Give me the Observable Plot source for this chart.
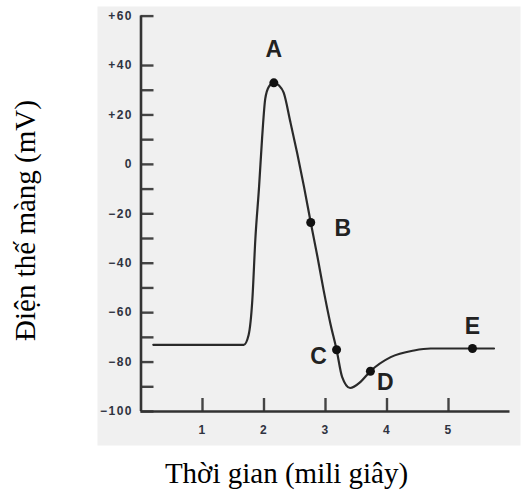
<!DOCTYPE html>
<html><head><meta charset="utf-8">
<script src="https://cdn.jsdelivr.net/npm/d3@7"></script>
<script src="https://cdn.jsdelivr.net/npm/@observablehq/plot@0.6"></script>
<style>body{margin:0;background:#fff}</style>
</head><body><div id="chart"></div>
<script>
const timeMs = [0.20, 1.67, 1.75, 1.81, 1.86, 1.92, 1.97, 2.02, 2.08, 2.16, 2.24, 2.32, 2.43, 2.54, 2.65, 2.76, 2.87, 2.97, 3.08, 3.18, 3.27, 3.40, 3.57, 3.73, 4.06, 4.44, 4.71, 5.39, 5.74];
const membraneMV = [-73, -73, -69, -55, -30, -9, 11, 26.5, 31.5, 33, 32, 29, 17, 4.5, -9, -23.5, -37.5, -51, -64.5, -75, -86, -90.5, -88, -83.7, -78, -75.3, -74.5, -74.5, -74.5];
const pointLabels = ["A", "B", "C", "D", "E"];
const pointTimeMs = [2.16, 2.76, 3.18, 3.73, 5.39];
const pointMV = [33, -23.5, -75, -83.7, -74.5];
const yTickValues = [-100, -80, -60, -40, -20, 0, 20, 40, 60];
const yMinorTicks = [-90, -70, -50, -30, -10, 10, 30];
const xTickValues = [1, 2, 3, 4, 5];
const xTitle = "Thời gian (mili giây)";
const yTitle = "Điện thế màng (mV)";

const curveData = timeMs.map((t, i) => ({t, v: membraneMV[i]}));
const points = pointLabels.map((label, i) => ({label, t: pointTimeMs[i], v: pointMV[i]}));
const labelOffsets = {A: [0, -33], B: [32, 6], C: [-18, 7], D: [15, 11], E: [0, -22]};
const fmt = v => v > 0 ? "+" + v : v < 0 ? "\u2212" + Math.abs(v) : "0";
const serif = "'Liberation Serif', 'Times New Roman', serif";

const chart = Plot.plot({
  width: 521, height: 493,
  marginLeft: 140.5, marginRight: 11.5, marginTop: 15.6, marginBottom: 82,
  x: {domain: [0, 6], label: null},
  y: {domain: [-100, 60], label: null},
  style: {background: "transparent", fontFamily: "'Liberation Sans', Arial, sans-serif"},
  marks: [
    Plot.frame({fill: "#f0f0f0", stroke: "none", insetLeft: -43.5, insetRight: -10.5, insetTop: -9.6, insetBottom: -34}),
    Plot.axisY([...yTickValues, ...yMinorTicks], {tickSize: -13, tickFormat: () => "", stroke: "#444", strokeWidth: 2.4}),
    Plot.axisY(yTickValues, {tickSize: 0, tickPadding: 8, tickFormat: fmt, fontSize: 12, fontWeight: "bold", fill: "#2f3340"}),
    Plot.axisX(xTickValues, {tickSize: -13, tickFormat: () => "", stroke: "#444", strokeWidth: 2.4}),
    Plot.axisX(xTickValues, {tickSize: 0, tickPadding: 14, fontSize: 12, fontWeight: "bold", fill: "#2f3340"}),
    Plot.ruleX([0], {stroke: "#333", strokeWidth: 2.6}),
    Plot.ruleY([-100], {stroke: "#333", strokeWidth: 2.6}),
    Plot.line(curveData, {x: "t", y: "v", curve: "monotone-x", stroke: "#2a2a2a", strokeWidth: 2.2}),
    Plot.dot(points, {x: "t", y: "v", r: 4.5, fill: "#111"}),
    ...pointLabels.map(l => Plot.text(points.filter(p => p.label === l), {
      x: "t", y: "v", text: "label", dx: labelOffsets[l][0], dy: labelOffsets[l][1],
      fontSize: 23, fontWeight: "bold", fill: "#222"
    })),
    Plot.text([xTitle], {text: d => d, frameAnchor: "bottom", dx: -39, dy: 71, lineAnchor: "bottom", fontSize: 29, fontFamily: serif, fill: "#000"}),
    Plot.text([yTitle], {text: d => d, frameAnchor: "left", rotate: -90, dx: -106.5, dy: 6.7, lineAnchor: "bottom", textAnchor: "middle", fontSize: 29, fontFamily: serif, fill: "#000"})
  ]
});
chart.querySelectorAll('g[aria-label="y-axis tick label"], g[aria-label="x-axis tick label"]').forEach(g => g.setAttribute("letter-spacing", "1.5"));
document.getElementById("chart").appendChild(chart);
</script>
</body></html>
